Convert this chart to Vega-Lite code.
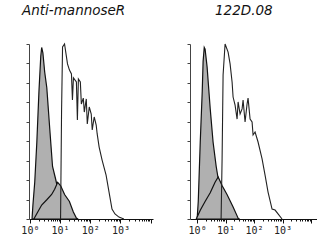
{
  "$schema": "https://vega.github.io/schema/vega-lite/v6.json",
  "padding": {"left": 20, "top": 3, "right": 0, "bottom": 0},
  "background": "white",
  "config": {
    "view": {"stroke": null},
    "axis": {"grid": false, "title": null, "domainColor": "#111", "tickColor": "#111", "labelFont": "DejaVu Sans Mono", "labelFontSize": 10, "labelColor": "#222"},
    "title": {"font": "DejaVu Sans", "fontStyle": "italic", "fontWeight": "normal", "fontSize": 13.5, "color": "#111", "anchor": "start", "frame": "group", "baseline": "alphabetic", "offset": 22}
  },
  "data": {"values": [
    {"p": "A", "s": "iso", "u": 0.07, "h": 0}, {"p": "A", "s": "iso", "u": 0.10, "h": 0.08}, {"p": "A", "s": "iso", "u": 0.16, "h": 0.21}, {"p": "A", "s": "iso", "u": 0.23, "h": 0.44}, {"p": "A", "s": "iso", "u": 0.30, "h": 0.73}, {"p": "A", "s": "iso", "u": 0.36, "h": 0.93}, {"p": "A", "s": "iso", "u": 0.39, "h": 0.98}, {"p": "A", "s": "iso", "u": 0.43, "h": 0.95}, {"p": "A", "s": "iso", "u": 0.49, "h": 0.84}, {"p": "A", "s": "iso", "u": 0.56, "h": 0.75}, {"p": "A", "s": "iso", "u": 0.66, "h": 0.51}, {"p": "A", "s": "iso", "u": 0.75, "h": 0.30}, {"p": "A", "s": "iso", "u": 0.85, "h": 0.23}, {"p": "A", "s": "iso", "u": 0.98, "h": 0.13}, {"p": "A", "s": "iso", "u": 1.15, "h": 0.05}, {"p": "A", "s": "iso", "u": 1.31, "h": 0.01}, {"p": "A", "s": "iso", "u": 1.40, "h": 0},
    {"p": "A", "s": "neg", "u": 0.13, "h": 0}, {"p": "A", "s": "neg", "u": 0.26, "h": 0.04}, {"p": "A", "s": "neg", "u": 0.39, "h": 0.08}, {"p": "A", "s": "neg", "u": 0.56, "h": 0.11}, {"p": "A", "s": "neg", "u": 0.72, "h": 0.14}, {"p": "A", "s": "neg", "u": 0.82, "h": 0.17}, {"p": "A", "s": "neg", "u": 0.92, "h": 0.21}, {"p": "A", "s": "neg", "u": 1.02, "h": 0.19}, {"p": "A", "s": "neg", "u": 1.15, "h": 0.14}, {"p": "A", "s": "neg", "u": 1.31, "h": 0.10}, {"p": "A", "s": "neg", "u": 1.44, "h": 0.04}, {"p": "A", "s": "neg", "u": 1.54, "h": 0.005}, {"p": "A", "s": "neg", "u": 1.60, "h": 0},
    {"p": "A", "s": "pos", "u": 1.016, "h": 0}, {"p": "A", "s": "pos", "u": 1.049, "h": 0.611}, {"p": "A", "s": "pos", "u": 1.082, "h": 0.983}, {"p": "A", "s": "pos", "u": 1.148, "h": 1.0}, {"p": "A", "s": "pos", "u": 1.246, "h": 0.886}, {"p": "A", "s": "pos", "u": 1.311, "h": 0.851}, {"p": "A", "s": "pos", "u": 1.377, "h": 0.829}, {"p": "A", "s": "pos", "u": 1.410, "h": 0.680}, {"p": "A", "s": "pos", "u": 1.443, "h": 0.806}, {"p": "A", "s": "pos", "u": 1.541, "h": 0.783}, {"p": "A", "s": "pos", "u": 1.574, "h": 0.566}, {"p": "A", "s": "pos", "u": 1.607, "h": 0.800}, {"p": "A", "s": "pos", "u": 1.672, "h": 0.783}, {"p": "A", "s": "pos", "u": 1.705, "h": 0.657}, {"p": "A", "s": "pos", "u": 1.770, "h": 0.691}, {"p": "A", "s": "pos", "u": 1.803, "h": 0.611}, {"p": "A", "s": "pos", "u": 1.869, "h": 0.686}, {"p": "A", "s": "pos", "u": 1.902, "h": 0.543}, {"p": "A", "s": "pos", "u": 1.967, "h": 0.640}, {"p": "A", "s": "pos", "u": 2.033, "h": 0.600}, {"p": "A", "s": "pos", "u": 2.066, "h": 0.509}, {"p": "A", "s": "pos", "u": 2.131, "h": 0.583}, {"p": "A", "s": "pos", "u": 2.197, "h": 0.537}, {"p": "A", "s": "pos", "u": 2.230, "h": 0.486}, {"p": "A", "s": "pos", "u": 2.295, "h": 0.411}, {"p": "A", "s": "pos", "u": 2.393, "h": 0.337}, {"p": "A", "s": "pos", "u": 2.525, "h": 0.251}, {"p": "A", "s": "pos", "u": 2.623, "h": 0.154}, {"p": "A", "s": "pos", "u": 2.721, "h": 0.057}, {"p": "A", "s": "pos", "u": 2.820, "h": 0.029}, {"p": "A", "s": "pos", "u": 2.951, "h": 0.011}, {"p": "A", "s": "pos", "u": 3.115, "h": 0},
    {"p": "B", "s": "iso", "u": 0.0, "h": 0}, {"p": "B", "s": "iso", "u": 0.04, "h": 0.10}, {"p": "B", "s": "iso", "u": 0.11, "h": 0.44}, {"p": "B", "s": "iso", "u": 0.18, "h": 0.73}, {"p": "B", "s": "iso", "u": 0.21, "h": 0.90}, {"p": "B", "s": "iso", "u": 0.25, "h": 0.98}, {"p": "B", "s": "iso", "u": 0.28, "h": 0.97}, {"p": "B", "s": "iso", "u": 0.35, "h": 0.87}, {"p": "B", "s": "iso", "u": 0.46, "h": 0.63}, {"p": "B", "s": "iso", "u": 0.56, "h": 0.44}, {"p": "B", "s": "iso", "u": 0.67, "h": 0.30}, {"p": "B", "s": "iso", "u": 0.74, "h": 0.23}, {"p": "B", "s": "iso", "u": 0.88, "h": 0.14}, {"p": "B", "s": "iso", "u": 1.02, "h": 0.07}, {"p": "B", "s": "iso", "u": 1.16, "h": 0.02}, {"p": "B", "s": "iso", "u": 1.25, "h": 0},
    {"p": "B", "s": "neg", "u": -0.03, "h": 0}, {"p": "B", "s": "neg", "u": 0.11, "h": 0.05}, {"p": "B", "s": "neg", "u": 0.28, "h": 0.10}, {"p": "B", "s": "neg", "u": 0.46, "h": 0.15}, {"p": "B", "s": "neg", "u": 0.63, "h": 0.21}, {"p": "B", "s": "neg", "u": 0.74, "h": 0.24}, {"p": "B", "s": "neg", "u": 0.88, "h": 0.19}, {"p": "B", "s": "neg", "u": 1.05, "h": 0.14}, {"p": "B", "s": "neg", "u": 1.26, "h": 0.07}, {"p": "B", "s": "neg", "u": 1.44, "h": 0.005}, {"p": "B", "s": "neg", "u": 1.48, "h": 0},
    {"p": "B", "s": "pos", "u": 0.842, "h": 0}, {"p": "B", "s": "pos", "u": 0.877, "h": 0.343}, {"p": "B", "s": "pos", "u": 0.912, "h": 0.823}, {"p": "B", "s": "pos", "u": 0.982, "h": 1.0}, {"p": "B", "s": "pos", "u": 1.088, "h": 0.954}, {"p": "B", "s": "pos", "u": 1.158, "h": 0.886}, {"p": "B", "s": "pos", "u": 1.228, "h": 0.783}, {"p": "B", "s": "pos", "u": 1.263, "h": 0.697}, {"p": "B", "s": "pos", "u": 1.333, "h": 0.651}, {"p": "B", "s": "pos", "u": 1.404, "h": 0.571}, {"p": "B", "s": "pos", "u": 1.439, "h": 0.669}, {"p": "B", "s": "pos", "u": 1.509, "h": 0.600}, {"p": "B", "s": "pos", "u": 1.579, "h": 0.629}, {"p": "B", "s": "pos", "u": 1.614, "h": 0.680}, {"p": "B", "s": "pos", "u": 1.684, "h": 0.554}, {"p": "B", "s": "pos", "u": 1.754, "h": 0.657}, {"p": "B", "s": "pos", "u": 1.789, "h": 0.691}, {"p": "B", "s": "pos", "u": 1.860, "h": 0.571}, {"p": "B", "s": "pos", "u": 1.930, "h": 0.554}, {"p": "B", "s": "pos", "u": 1.965, "h": 0.480}, {"p": "B", "s": "pos", "u": 2.035, "h": 0.497}, {"p": "B", "s": "pos", "u": 2.140, "h": 0.440}, {"p": "B", "s": "pos", "u": 2.281, "h": 0.343}, {"p": "B", "s": "pos", "u": 2.386, "h": 0.251}, {"p": "B", "s": "pos", "u": 2.491, "h": 0.154}, {"p": "B", "s": "pos", "u": 2.632, "h": 0.057}, {"p": "B", "s": "pos", "u": 2.737, "h": 0.051}, {"p": "B", "s": "pos", "u": 2.842, "h": 0.029}, {"p": "B", "s": "pos", "u": 2.982, "h": 0}
  ]},
  "spacing": 37,
  "bounds": "flush",
  "hconcat": [
    {
      "width": 124, "height": 175,
      "title": {"text": "Anti-mannoseR", "dx": -7},
      "transform": [{"filter": "datum.p === 'A'"}],
      "encoding": {
        "x": {"field": "u", "type": "quantitative", "scale": {"domain": [-0.03, 4.08], "nice": false, "zero": false},
          "axis": {"values": [0,0.301,0.477,0.602,0.699,0.778,0.845,0.903,0.954,1,1.301,1.477,1.602,1.699,1.778,1.845,1.903,1.954,2,2.301,2.477,2.602,2.699,2.778,2.845,2.903,2.954,3,3.301,3.477,3.602,3.699,3.778,3.845,3.903,3.954,4],
            "tickSize": {"condition": {"test": "abs(datum.value - round(datum.value)) < 0.01", "value": 4}, "value": 2},
            "labelExpr": "abs(datum.value - round(datum.value)) > 0.01 ? '' : round(datum.value) == 0 ? '10⁰' : round(datum.value) == 1 ? '10¹' : round(datum.value) == 2 ? '10²' : round(datum.value) == 3 ? '10³' : ''",
            "labelOverlap": false, "labelFlush": false, "labelBound": false, "labelPadding": 2}},
        "y": {"field": "h", "type": "quantitative", "stack": null, "scale": {"domain": [0, 1], "nice": false},
          "axis": {"values": [0,0.111,0.222,0.333,0.444,0.556,0.667,0.778,0.889,1], "labelExpr": "''", "labelOpacity": 0, "tickSize": 3, "domainColor": "#444", "tickColor": "#444"}}
      },
      "layer": [
        {
          "transform": [{"filter": "datum.s !== 'pos'"}],
          "mark": {"type": "area", "fill": "#b0b0b0", "stroke": "#111", "strokeWidth": 1.2, "interpolate": "linear"},
          "encoding": {"detail": {"field": "s"}}
        },
        {
          "transform": [{"filter": "datum.s === 'pos'"}],
          "mark": {"type": "line", "color": "#222", "strokeWidth": 1.1},
          "encoding": {}
        }
      ]
    },
    {
      "width": 127, "height": 175,
      "title": {"text": "122D.08", "dx": 25},
      "transform": [{"filter": "datum.p === 'B'"}],
      "encoding": {
        "x": {"field": "u", "type": "quantitative", "scale": {"domain": [-0.25, 4.21], "nice": false, "zero": false},
          "axis": {"values": [0,0.301,0.477,0.602,0.699,0.778,0.845,0.903,0.954,1,1.301,1.477,1.602,1.699,1.778,1.845,1.903,1.954,2,2.301,2.477,2.602,2.699,2.778,2.845,2.903,2.954,3,3.301,3.477,3.602,3.699,3.778,3.845,3.903,3.954,4],
            "tickSize": {"condition": {"test": "abs(datum.value - round(datum.value)) < 0.01", "value": 4}, "value": 2},
            "labelExpr": "abs(datum.value - round(datum.value)) > 0.01 ? '' : round(datum.value) == 0 ? '10⁰' : round(datum.value) == 1 ? '10¹' : round(datum.value) == 2 ? '10²' : round(datum.value) == 3 ? '10³' : ''",
            "labelOverlap": false, "labelFlush": false, "labelBound": false, "labelPadding": 2}},
        "y": {"field": "h", "type": "quantitative", "stack": null, "scale": {"domain": [0, 1], "nice": false},
          "axis": {"values": [0,0.111,0.222,0.333,0.444,0.556,0.667,0.778,0.889,1], "labelExpr": "''", "labelOpacity": 0, "tickSize": 3, "domainColor": "#444", "tickColor": "#444"}}
      },
      "layer": [
        {
          "transform": [{"filter": "datum.s !== 'pos'"}],
          "mark": {"type": "area", "fill": "#b0b0b0", "stroke": "#111", "strokeWidth": 1.2, "interpolate": "linear"},
          "encoding": {"detail": {"field": "s"}}
        },
        {
          "transform": [{"filter": "datum.s === 'pos'"}],
          "mark": {"type": "line", "color": "#222", "strokeWidth": 1.1},
          "encoding": {}
        }
      ]
    }
  ]
}
